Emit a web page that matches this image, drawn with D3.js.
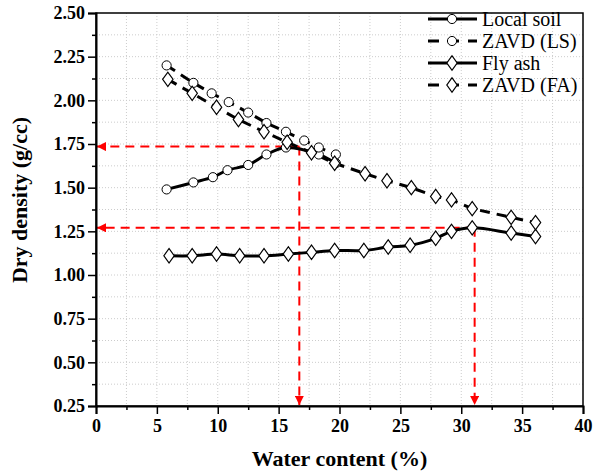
<!DOCTYPE html>
<html>
<head>
<meta charset="utf-8">
<script src="https://cdn.jsdelivr.net/npm/d3@7"></script>
<style>
  body { margin: 0; background: #fff; }
  svg text { font-family: "Times New Roman", Times, "Liberation Serif", "DejaVu Serif Condensed", "DejaVu Serif", serif !important; }
</style>
</head>
<body>
<div id="chart"></div>
<script>
// data
const localSoilW = [5.8, 8.0, 9.6, 10.8, 12.5, 14.0, 15.6, 18.3, 19.7];
const localSoilD = [1.49, 1.53, 1.56, 1.60, 1.63, 1.69, 1.73, 1.69, 1.64];

const zavdLSW = [5.8, 8.0, 9.5, 10.9, 12.5, 14.0, 15.6, 17.1, 18.3, 19.7];
const zavdLSD = [2.20, 2.10, 2.04, 1.99, 1.93, 1.87, 1.82, 1.77, 1.73, 1.69];

const flyAshW = [6.0, 7.9, 9.9, 11.8, 13.8, 15.8, 17.7, 19.6, 22.0, 24.0, 25.8, 27.9, 29.2, 30.9, 34.1, 36.1];
const flyAshD = [1.11, 1.11, 1.12, 1.11, 1.11, 1.12, 1.13, 1.14, 1.14, 1.16, 1.17, 1.21, 1.25, 1.27, 1.24, 1.22];

const zavdFAW = [5.9, 7.9, 9.9, 11.7, 13.8, 15.7, 17.7, 19.6, 22.1, 23.9, 25.9, 27.9, 29.2, 30.9, 34.1, 36.1];
const zavdFAD = [2.12, 2.04, 1.96, 1.89, 1.82, 1.76, 1.70, 1.64, 1.58, 1.54, 1.50, 1.45, 1.43, 1.38, 1.33, 1.30];

// optimum moisture content / max dry density guide lines
const omcW = [16.7, 31.1];
const mddD = [1.735, 1.27];

const xTicks = [0, 5, 10, 15, 20, 25, 30, 35, 40];
const yTicks = [0.25, 0.50, 0.75, 1.00, 1.25, 1.50, 1.75, 2.00, 2.25, 2.50];

const series = [
  { name: "Local soil", w: localSoilW, d: localSoilD, shape: "circle", dashed: false },
  { name: "ZAVD (LS)", w: zavdLSW, d: zavdLSD, shape: "circle", dashed: true },
  { name: "Fly ash", w: flyAshW, d: flyAshD, shape: "diamond", dashed: false },
  { name: "ZAVD (FA)", w: zavdFAW, d: zavdFAD, shape: "diamond", dashed: true }
];

const margin = { top: 13, right: 12, bottom: 69, left: 96 },
    width = 595 - margin.left - margin.right,
    height = 475 - margin.top - margin.bottom;

const svg = d3.select("#chart")
    .append("svg")
    .attr("width", 595)
    .attr("height", 475);

const defs = svg.append("defs");
defs.append("marker")
    .attr("id", "arrow")
    .attr("viewBox", "0 0 10 10")
    .attr("refX", 10).attr("refY", 5)
    .attr("markerWidth", 11).attr("markerHeight", 9)
    .attr("markerUnits", "userSpaceOnUse")
    .attr("orient", "auto")
    .append("path")
    .attr("d", "M0,0 L10,5 L0,10 Z")
    .attr("fill", "#ff0000");

const g = svg.append("g")
    .attr("transform", `translate(${margin.left},${margin.top})`);

const x = d3.scaleLinear().domain([0, 40]).range([0, width]);
const y = d3.scaleLinear().domain([0.25, 2.5]).range([height, 0]);

// grid (dotted, at major and minor ticks)
g.append("g")
    .selectAll("line")
    .data(d3.range(1, 16).map(i => i * 2.5))
    .join("line")
    .attr("x1", d => x(d)).attr("x2", d => x(d))
    .attr("y1", 0).attr("y2", height)
    .attr("stroke", "#cccccc").attr("stroke-width", 1)
    .attr("stroke-dasharray", "1,2");
g.append("g")
    .selectAll("line")
    .data(d3.range(1, 18).map(i => 0.25 + i * 0.125))
    .join("line")
    .attr("x1", 0).attr("x2", width)
    .attr("y1", d => y(d)).attr("y2", d => y(d))
    .attr("stroke", "#cccccc").attr("stroke-width", 1)
    .attr("stroke-dasharray", "1,2");

// red guide lines
omcW.forEach((w, i) => {
  g.append("line")
      .attr("x1", x(w)).attr("x2", x(0) + 1)
      .attr("y1", y(mddD[i])).attr("y2", y(mddD[i]))
      .attr("stroke", "#ff0000").attr("stroke-width", 2)
      .attr("stroke-dasharray", "9,6")
      .attr("marker-end", "url(#arrow)");
  g.append("line")
      .attr("x1", x(w)).attr("x2", x(w))
      .attr("y1", y(mddD[i])).attr("y2", y(0.25) - 1)
      .attr("stroke", "#ff0000").attr("stroke-width", 2)
      .attr("stroke-dasharray", "9,6")
      .attr("marker-end", "url(#arrow)");
});

// lines
series.forEach(s => {
  const pts = s.w.map((w, i) => [w, s.d[i]]);
  const line = d3.line()
      .x(p => x(p[0])).y(p => y(p[1]))
      .curve(s.dashed ? d3.curveLinear : d3.curveCatmullRom.alpha(0.5));
  g.append("path")
      .datum(pts)
      .attr("d", line)
      .attr("fill", "none")
      .attr("stroke", "#000")
      .attr("stroke-width", 3)
      .attr("stroke-dasharray", s.dashed ? "10,7" : null);
});

const circleSym = d3.symbol().type(d3.symbolCircle).size(66);
const diamondSym = d3.symbol().type(d3.symbolDiamond).size(60);

series.forEach(s => {
  g.append("g")
      .selectAll("path")
      .data(s.w.map((w, i) => [w, s.d[i]]))
      .join("path")
      .attr("d", s.shape === "circle" ? circleSym() : diamondSym())
      .attr("transform", p => `translate(${x(p[0])},${y(p[1])})` + (s.shape === "diamond" ? " scale(1.25,1)" : ""))
      .attr("fill", "#fff")
      .attr("stroke", "#000")
      .attr("stroke-width", 1);
});

// axes
const xAxis = g.append("g")
    .attr("transform", `translate(0,${height})`)
    .call(d3.axisBottom(x).tickValues(xTicks).tickSize(8).tickFormat(d3.format("d")));
g.append("g")
    .attr("transform", `translate(0,${height})`)
    .call(d3.axisBottom(x).tickValues(d3.range(0, 8).map(i => 2.5 + i * 5)).tickSize(4).tickFormat(""))
    .call(a => a.select(".domain").remove());
const yAxis = g.append("g")
    .call(d3.axisLeft(y).tickValues(yTicks).tickSize(8).tickFormat(d3.format(".2f")));
g.append("g")
    .call(d3.axisLeft(y).tickValues(d3.range(0, 9).map(i => 0.375 + i * 0.25)).tickSize(4).tickFormat(""))
    .call(a => a.select(".domain").remove());

g.selectAll(".tick line").attr("stroke-width", 1.5);
[xAxis, yAxis].forEach(a => {
  a.attr("font-family", null);
  a.select(".domain").attr("stroke-width", 2);
  a.selectAll("text")
      .attr("font-size", 18)
      .attr("font-weight", "bold")
      .attr("fill", "#000");
});
xAxis.selectAll("text").attr("dy", "0.85em");

// frame
g.append("rect")
    .attr("width", width).attr("height", height)
    .attr("fill", "none").attr("stroke", "#000").attr("stroke-width", 1.5);

// axis titles
svg.append("text")
    .attr("x", margin.left + width / 2).attr("y", 466)
    .attr("text-anchor", "middle")
    .attr("font-size", 22).attr("font-weight", "bold")
    .text("Water content (%)");
svg.append("text")
    .attr("transform", "translate(27,200) rotate(-90)")
    .attr("text-anchor", "middle")
    .attr("font-size", 22).attr("font-weight", "bold")
    .text("Dry density (g/cc)");

// legend
const legend = svg.append("g");
series.forEach((s, i) => {
  const ly = 19 + i * 22;
  legend.append("line")
      .attr("x1", 428).attr("x2", 477).attr("y1", ly).attr("y2", ly)
      .attr("stroke", "#000").attr("stroke-width", 3)
      .attr("stroke-dasharray", s.dashed ? "11,9" : null);
  legend.append("path")
      .attr("d", s.shape === "circle" ? circleSym() : diamondSym())
      .attr("transform", `translate(452,${ly})` + (s.shape === "diamond" ? " scale(1.25,1)" : ""))
      .attr("fill", "#fff").attr("stroke", "#000").attr("stroke-width", 1);
  legend.append("text")
      .attr("x", 482).attr("y", ly).attr("dy", "0.35em")
      .attr("font-size", 20)
      .text(s.name);
});
</script>
</body>
</html>
